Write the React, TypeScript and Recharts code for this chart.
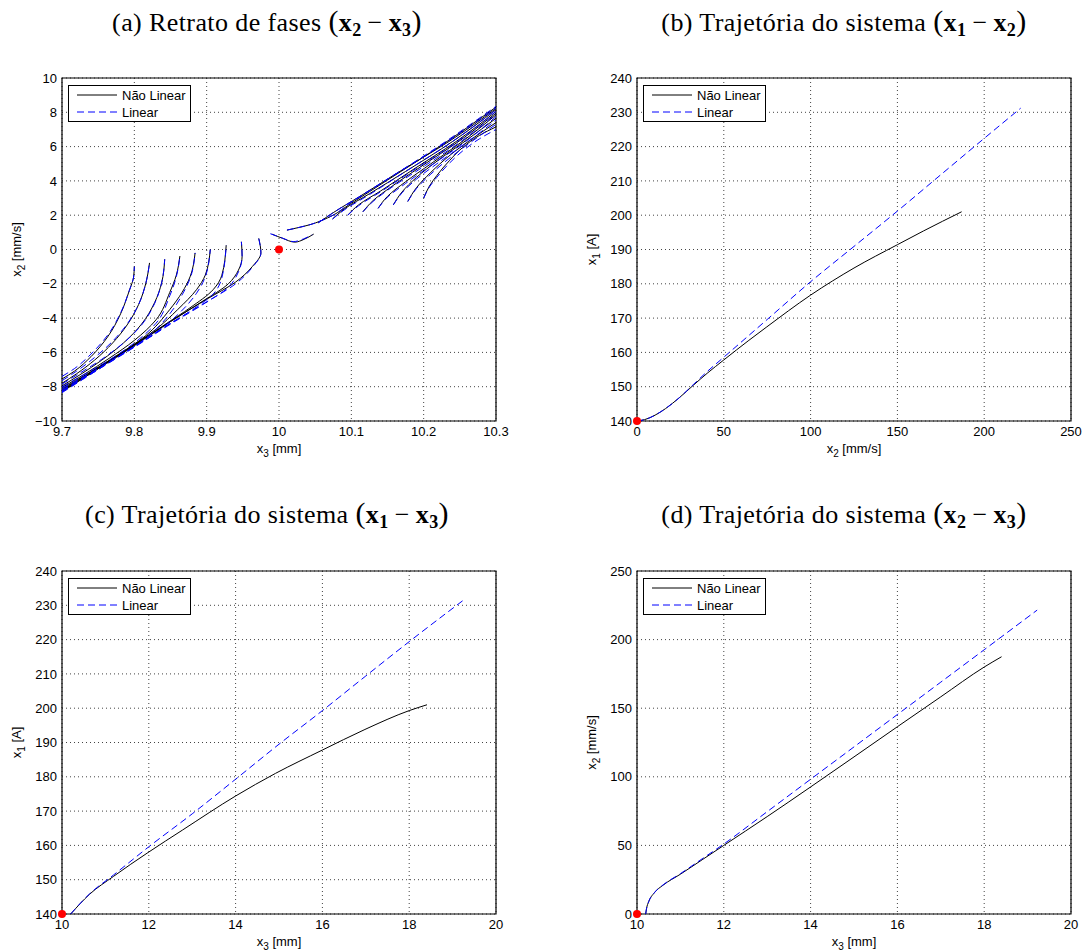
import React from "react";
import { LineChart, Line, XAxis, YAxis, CartesianGrid, ReferenceArea, ReferenceDot, Label } from "recharts";

type Pt = [number, number];

// (a) phase portrait: x3 [mm] -> x2 [mm/s], left family (read bottom to top)
const phaseLeftNL: Pt[][] = [
  [[9.7, -7.55], [9.717, -7.1], [9.74, -6.25], [9.763, -5.1], [9.781, -3.75], [9.793, -2.4], [9.799, -1.6], [9.8, -1.0]],
  [[9.7, -7.8], [9.72, -7.25], [9.745, -6.45], [9.77, -5.45], [9.79, -4.4], [9.806, -3.2], [9.816, -1.95], [9.821, -0.78]],
  [[9.7, -7.95], [9.725, -7.3], [9.755, -6.45], [9.785, -5.45], [9.81, -4.35], [9.828, -3.1], [9.838, -1.9], [9.842, -0.57]],
  [[9.7, -8.05], [9.73, -7.3], [9.765, -6.35], [9.8, -5.3], [9.83, -4.1], [9.849, -2.5], [9.858, -1.5], [9.863, -0.38]],
  [[9.7, -8.12], [9.735, -7.25], [9.775, -6.2], [9.815, -5.05], [9.849, -3.5], [9.866, -2.5], [9.877, -1.6], [9.884, -0.2]],
  [[9.7, -8.18], [9.74, -7.15], [9.785, -5.95], [9.83, -4.65], [9.86, -3.5], [9.886, -2.34], [9.898, -1.5], [9.905, 0.0]],
  [[9.7, -8.22], [9.745, -7.05], [9.795, -5.7], [9.845, -4.3], [9.877, -3.4], [9.909, -2.34], [9.921, -1.5], [9.927, 0.25]],
  [[9.7, -8.26], [9.75, -6.95], [9.8, -5.6], [9.85, -4.2], [9.895, -3.0], [9.93, -2.0], [9.944, -1.2], [9.949, -0.4], [9.948, 0.45]],
  [[9.7, -8.3], [9.75, -6.95], [9.8, -5.6], [9.85, -4.2], [9.9, -2.9], [9.94, -1.9], [9.963, -1.0], [9.975, -0.2], [9.972, 0.65]],
];
const phaseLeftL: Pt[][] = [
  [[9.7, -7.4], [9.717, -6.95], [9.74, -6.1], [9.763, -5.0], [9.781, -3.7], [9.793, -2.4], [9.799, -1.6], [9.8, -1.0]],
  [[9.7, -7.65], [9.72, -7.1], [9.745, -6.3], [9.77, -5.35], [9.79, -4.35], [9.806, -3.2], [9.816, -1.95], [9.821, -0.78]],
  [[9.7, -7.85], [9.725, -7.2], [9.755, -6.4], [9.785, -5.45], [9.81, -4.4], [9.828, -3.15], [9.838, -1.9], [9.842, -0.57]],
  [[9.7, -8.0], [9.73, -7.3], [9.765, -6.45], [9.8, -5.45], [9.83, -4.3], [9.849, -2.7], [9.858, -1.6], [9.863, -0.38]],
  [[9.7, -8.1], [9.735, -7.3], [9.775, -6.3], [9.815, -5.2], [9.849, -3.75], [9.866, -2.65], [9.877, -1.7], [9.884, -0.2]],
  [[9.7, -8.2], [9.74, -7.2], [9.785, -6.05], [9.83, -4.85], [9.86, -3.8], [9.886, -2.55], [9.898, -1.6], [9.905, 0.0]],
  [[9.7, -8.25], [9.745, -7.1], [9.795, -5.8], [9.845, -4.45], [9.877, -3.6], [9.909, -2.6], [9.921, -1.65], [9.927, 0.25]],
  [[9.7, -8.3], [9.75, -7.0], [9.8, -5.7], [9.85, -4.35], [9.895, -3.2], [9.93, -2.2], [9.944, -1.3], [9.949, -0.4], [9.948, 0.45]],
  [[9.7, -8.35], [9.75, -7.0], [9.8, -5.65], [9.85, -4.3], [9.9, -3.05], [9.94, -2.0], [9.963, -1.05], [9.975, -0.2], [9.972, 0.65]],
];
// right family (read from start point up to the right edge)
const phaseRightNL: Pt[][] = [
  [[10.2, 3.0], [10.208, 3.7], [10.218, 4.3], [10.236, 5.2], [10.254, 5.95], [10.277, 6.65], [10.3, 7.15]],
  [[10.178, 2.8], [10.19, 3.6], [10.21, 4.5], [10.235, 5.45], [10.265, 6.4], [10.3, 7.4]],
  [[10.158, 2.6], [10.17, 3.35], [10.19, 4.2], [10.22, 5.2], [10.26, 6.4], [10.3, 7.65]],
  [[10.137, 2.4], [10.15, 3.1], [10.175, 3.95], [10.21, 5.0], [10.255, 6.35], [10.3, 7.85]],
  [[10.116, 2.2], [10.13, 2.85], [10.155, 3.65], [10.195, 4.8], [10.25, 6.35], [10.3, 7.95]],
  [[10.095, 2.0], [10.11, 2.6], [10.14, 3.4], [10.185, 4.65], [10.245, 6.3], [10.3, 8.05]],
  [[10.074, 1.78], [10.09, 2.35], [10.125, 3.25], [10.175, 4.55], [10.24, 6.3], [10.3, 8.15]],
  [[10.054, 1.55], [10.075, 2.15], [10.11, 3.05], [10.165, 4.5], [10.235, 6.3], [10.3, 8.22]],
  [[10.011, 1.13], [10.043, 1.45], [10.067, 1.84], [10.1, 2.7], [10.15, 4.05], [10.22, 5.95], [10.3, 8.3]],
];
const phaseRightL: Pt[][] = [
  [[10.2, 3.0], [10.208, 3.65], [10.218, 4.2], [10.236, 5.05], [10.254, 5.75], [10.277, 6.45], [10.3, 7.0]],
  [[10.178, 2.8], [10.19, 3.55], [10.21, 4.4], [10.235, 5.3], [10.265, 6.25], [10.3, 7.3]],
  [[10.158, 2.6], [10.17, 3.3], [10.19, 4.1], [10.22, 5.05], [10.26, 6.25], [10.3, 7.55]],
  [[10.137, 2.4], [10.15, 3.05], [10.175, 3.85], [10.21, 4.9], [10.255, 6.2], [10.3, 7.75]],
  [[10.116, 2.2], [10.13, 2.8], [10.155, 3.6], [10.195, 4.7], [10.25, 6.25], [10.3, 7.9]],
  [[10.095, 2.0], [10.11, 2.55], [10.14, 3.35], [10.185, 4.6], [10.245, 6.25], [10.3, 8.05]],
  [[10.074, 1.78], [10.09, 2.3], [10.125, 3.2], [10.175, 4.55], [10.24, 6.3], [10.3, 8.15]],
  [[10.054, 1.55], [10.075, 2.15], [10.11, 3.05], [10.165, 4.5], [10.235, 6.35], [10.3, 8.25]],
  [[10.011, 1.13], [10.043, 1.45], [10.067, 1.84], [10.1, 2.75], [10.15, 4.1], [10.22, 6.0], [10.3, 8.35]],
];
const phaseVNL: Pt[] = [[9.99, 0.9], [10.005, 0.65], [10.022, 0.43], [10.035, 0.6], [10.048, 0.9]];
const phaseVL: Pt[] = [[9.988, 0.92], [10.004, 0.68], [10.02, 0.46], [10.034, 0.62], [10.046, 0.86]];

// (b) x2 [mm/s] -> x1 [A]
const x2x1NL: Pt[] = [
  [0, 140], [4.4, 140.4], [10.4, 141.7], [16.4, 143.6], [24.4, 146.8], [32.4, 150.4], [40.4, 153.9], [50, 157.8],
  [64.4, 163.5], [74.4, 167.3], [100, 176.7], [125, 184.6], [150, 191.4], [165, 195.4], [187, 201],
];
const x2x1L: Pt[] = [
  [0, 140], [4.4, 140.4], [10.4, 141.7], [16.4, 143.6], [24.4, 146.8], [32.4, 150.6], [40.4, 154.4], [50, 158.6],
  [75, 169.6], [100, 180.6], [125, 190.9], [150, 201.2], [175, 211.8], [200, 222.4], [221, 231.2],
];

// (c) x3 [mm] -> x1 [A]
const x3x1NL: Pt[] = [
  [10.2, 140], [10.63, 145.7], [11.19, 151.0], [11.98, 157.9], [12.78, 164.5], [14.0, 174.4], [14.92, 181.0],
  [16.0, 187.8], [16.98, 193.8], [18.0, 199.3], [18.41, 201],
];
const x3x1L: Pt[] = [
  [10.2, 140], [10.63, 145.8], [11.19, 151.4], [12, 159.6], [13, 169.2], [14, 179.3], [15, 189.5], [16, 199.3],
  [17, 209.4], [18, 219.4], [19.25, 231.5],
];

// (d) x3 [mm] -> x2 [mm/s]
const x3x2NL: Pt[] = [
  [10.2, 0], [10.22, 4], [10.27, 9], [10.4, 15.5], [10.6, 21], [11, 29], [11.5, 39.5], [12, 50], [13, 71],
  [14, 92.6], [15, 114.5], [16, 136.5], [17, 158.3], [18, 180], [18.4, 187.5],
];
const x3x2L: Pt[] = [
  [10.2, 0], [10.22, 4], [10.27, 9], [10.4, 15.5], [10.6, 21.2], [11, 29.4], [11.5, 40.2], [12, 51], [13, 74.6],
  [14, 98.2], [15, 121.8], [16, 145.4], [17, 169], [18, 192.6], [19.22, 221.5],
];

// equilibrium / initial points
const dotA: Pt = [10, 0];
const dotB: Pt = [0, 140];
const dotC: Pt = [10, 140];
const dotD: Pt = [10, 0];

const ticksX3a = [9.7, 9.8, 9.9, 10, 10.1, 10.2, 10.3];
const ticksX2a = [-10, -8, -6, -4, -2, 0, 2, 4, 6, 8, 10];
const ticksX2b = [0, 50, 100, 150, 200, 250];
const ticksX1 = [140, 150, 160, 170, 180, 190, 200, 210, 220, 230, 240];
const ticksX3 = [10, 12, 14, 16, 18, 20];
const ticksX2d = [0, 50, 100, 150, 200, 250];

const SANS = "'Liberation Sans', Arial, Helvetica, sans-serif";
const SERIF = "'Liberation Serif', 'Times New Roman', serif";
const BLUE = "#0000ff";
const FS = 13;

const PLOT_W = 434;
const PLOT_H = 343;
const AXIS_W = 62;
const TOP_PAD = 10;
const RIGHT_PAD = 14;
const BOTTOM_H = 45;

type Kind = "monotone" | "monotoneY" | "linear";
type Curve = { pts: Pt[]; type: Kind };

const rows = (pts: Pt[]) => pts.map(([x, y]) => ({ x, y }));
const fmt = (v: number) => String(v).replace("-", "\u2212");

function SubText({ x, y, sub, rest, rotate }: { x: number; y: number; sub: string; rest: string; rotate?: boolean }) {
  return (
    <text
      x={x}
      y={y}
      textAnchor="middle"
      fontFamily={SANS}
      fontSize={FS}
      fill="#000"
      transform={rotate ? `rotate(-90, ${x}, ${y})` : undefined}
    >
      <tspan>x</tspan>
      <tspan dy={4} fontSize={10}>{sub}</tspan>
      <tspan dy={-4}>{" " + rest}</tspan>
    </text>
  );
}

interface PanelProps {
  left: number;
  top: number;
  xDomain: [number, number];
  yDomain: [number, number];
  xTicks: number[];
  yTicks: number[];
  nl: Curve[];
  lin: Curve[];
  dot: Pt;
  xLabel: [string, string];
  yLabel: [string, string];
}

function Panel({ left, top, xDomain, yDomain, xTicks, yTicks, nl, lin, dot, xLabel, yLabel }: PanelProps) {
  const W = AXIS_W + PLOT_W + RIGHT_PAD;
  const H = TOP_PAD + PLOT_H + BOTTOM_H;
  return (
    <div style={{ position: "absolute", left: left - AXIS_W, top: top - TOP_PAD, width: W, height: H }}>
      <LineChart width={W} height={H} margin={{ top: TOP_PAD, right: RIGHT_PAD, left: 0, bottom: 0 }}>
        <CartesianGrid stroke="#444" strokeDasharray="1 3" />
        <XAxis
          type="number"
          dataKey="x"
          domain={xDomain}
          ticks={xTicks}
          interval={0}
          allowDataOverflow
          height={BOTTOM_H}
          tickLine={false}
          axisLine={false}
          tickSize={0}
          tickMargin={6}
          tickFormatter={fmt}
          tick={{ fill: "#000", fontSize: FS, fontFamily: SANS }}
        >
          <Label
            content={(p: any) => (
              <SubText x={p.viewBox.x + p.viewBox.width / 2} y={p.viewBox.y + 32} sub={xLabel[0]} rest={xLabel[1]} />
            )}
          />
        </XAxis>
        <YAxis
          type="number"
          domain={yDomain}
          ticks={yTicks}
          interval={0}
          allowDataOverflow
          width={AXIS_W}
          tickLine={false}
          axisLine={false}
          tickSize={0}
          tickMargin={5}
          tickFormatter={fmt}
          tick={{ fill: "#000", fontSize: FS, fontFamily: SANS }}
        >
          <Label
            content={(p: any) => (
              <SubText
                x={p.viewBox.x + p.viewBox.width - 45 + 4}
                y={p.viewBox.y + p.viewBox.height / 2}
                sub={yLabel[0]}
                rest={yLabel[1]}
                rotate
              />
            )}
          />
        </YAxis>
        <ReferenceArea
          x1={xDomain[0]}
          x2={xDomain[1]}
          y1={yDomain[0]}
          y2={yDomain[1]}
          fill="none"
          stroke="#000"
          strokeWidth={1.2}
          ifOverflow="visible"
        />
        {nl.map((c, i) => (
          <Line
            key={"nl" + i}
            data={rows(c.pts)}
            dataKey="y"
            type={c.type}
            stroke="#000"
            strokeWidth={1}
            dot={false}
            activeDot={false}
            isAnimationActive={false}
          />
        ))}
        {lin.map((c, i) => (
          <Line
            key={"l" + i}
            data={rows(c.pts)}
            dataKey="y"
            type={c.type}
            stroke={BLUE}
            strokeWidth={1}
            strokeDasharray="7 4"
            dot={false}
            activeDot={false}
            isAnimationActive={false}
          />
        ))}
        <ReferenceDot x={dot[0]} y={dot[1]} r={4} fill="#ff0000" stroke="none" ifOverflow="visible" />
      </LineChart>
      <LegendBox left={AXIS_W + 6} top={TOP_PAD + 7} />
    </div>
  );
}

function LegendBox({ left, top }: { left: number; top: number }) {
  return (
    <svg width={123} height={37} style={{ position: "absolute", left, top }}>
      <rect x={0.5} y={0.5} width={122} height={36} fill="#fff" stroke="#000" />
      <line x1={9} y1={10} x2={49} y2={10} stroke="#000" />
      <line x1={9} y1={27} x2={49} y2={27} stroke={BLUE} strokeDasharray="7 4" />
      <text x={54} y={14.5} fontFamily={SANS} fontSize={FS} fill="#000">
        Não Linear
      </text>
      <text x={54} y={31.5} fontFamily={SANS} fontSize={FS} fill="#000">
        Linear
      </text>
    </svg>
  );
}

function Title({ cx, top, label, a, b }: { cx: number; top: number; label: string; a: string; b: string }) {
  const sub: React.CSSProperties = { fontSize: 18, verticalAlign: -5, fontWeight: 700 };
  const paren: React.CSSProperties = { fontSize: 30 };
  return (
    <div
      style={{
        position: "absolute",
        left: cx - 300,
        top,
        width: 600,
        textAlign: "center",
        fontFamily: SERIF,
        fontSize: 26,
        letterSpacing: 0.4,
        lineHeight: "30px",
        color: "#000",
        whiteSpace: "nowrap",
      }}
    >
      {label}{" "}
      <span style={paren}>(</span>
      <b>x</b>
      <span style={sub}>{a}</span>
      <span style={{ margin: "0 6px" }}>−</span>
      <b>x</b>
      <span style={sub}>{b}</span>
      <span style={paren}>)</span>
    </div>
  );
}

export default function App() {
  const phaseNL: Curve[] = [
    ...phaseLeftNL.map((pts) => ({ pts, type: "monotoneY" as Kind })),
    ...phaseRightNL.map((pts) => ({ pts, type: "monotoneY" as Kind })),
    { pts: phaseVNL, type: "monotone" },
  ];
  const phaseL: Curve[] = [
    ...phaseLeftL.map((pts) => ({ pts, type: "monotoneY" as Kind })),
    ...phaseRightL.map((pts) => ({ pts, type: "monotoneY" as Kind })),
    { pts: phaseVL, type: "monotone" },
  ];
  return (
    <div style={{ position: "absolute", left: 0, top: 0, width: 1085, height: 952, background: "#fff" }}>
      <Title cx={267} top={6} label="(a) Retrato de fases" a="2" b="3" />
      <Title cx={844} top={6} label="(b) Trajetória do sistema" a="1" b="2" />
      <Title cx={267} top={498} label="(c) Trajetória do sistema" a="1" b="3" />
      <Title cx={844} top={498} label="(d) Trajetória do sistema" a="2" b="3" />
      <Panel
        left={62}
        top={78}
        xDomain={[9.7, 10.3]}
        yDomain={[-10, 10]}
        xTicks={ticksX3a}
        yTicks={ticksX2a}
        nl={phaseNL}
        lin={phaseL}
        dot={dotA}
        xLabel={["3", "[mm]"]}
        yLabel={["2", "[mm/s]"]}
      />
      <Panel
        left={637}
        top={78}
        xDomain={[0, 250]}
        yDomain={[140, 240]}
        xTicks={ticksX2b}
        yTicks={ticksX1}
        nl={[{ pts: x2x1NL, type: "monotone" }]}
        lin={[{ pts: x2x1L, type: "monotone" }]}
        dot={dotB}
        xLabel={["2", "[mm/s]"]}
        yLabel={["1", "[A]"]}
      />
      <Panel
        left={62}
        top={571}
        xDomain={[10, 20]}
        yDomain={[140, 240]}
        xTicks={ticksX3}
        yTicks={ticksX1}
        nl={[{ pts: x3x1NL, type: "monotone" }]}
        lin={[{ pts: x3x1L, type: "monotone" }]}
        dot={dotC}
        xLabel={["3", "[mm]"]}
        yLabel={["1", "[A]"]}
      />
      <Panel
        left={637}
        top={571}
        xDomain={[10, 20]}
        yDomain={[0, 250]}
        xTicks={ticksX3}
        yTicks={ticksX2d}
        nl={[{ pts: x3x2NL, type: "monotone" }]}
        lin={[{ pts: x3x2L, type: "monotone" }]}
        dot={dotD}
        xLabel={["3", "[mm]"]}
        yLabel={["2", "[mm/s]"]}
      />
    </div>
  );
}
